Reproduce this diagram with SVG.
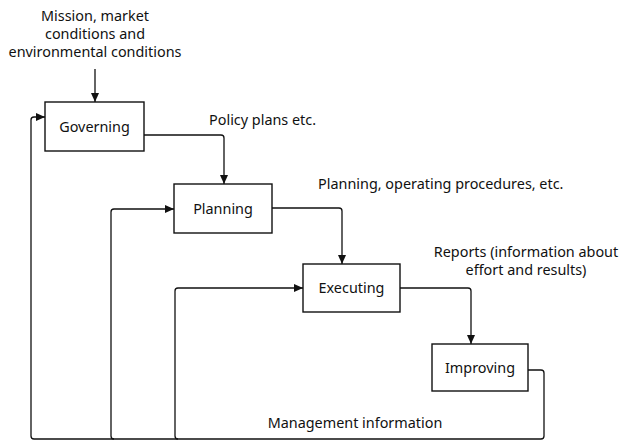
<svg xmlns="http://www.w3.org/2000/svg" width="623" height="440" viewBox="0 0 623 440">
<style>
text{font-family:"Noto Sans","Open Sans","Liberation Sans",sans-serif;font-size:14.4px;fill:#111;}
.c{text-anchor:middle;}
.box{fill:#fff;stroke:#111;stroke-width:1.4;}
.ln{fill:none;stroke:#111;stroke-width:1.3;}
</style>
<defs>
<marker id="ah" viewBox="0 0 9 8" refX="9" refY="4" markerWidth="9" markerHeight="8" markerUnits="userSpaceOnUse" orient="auto">
<path d="M0,0 L9,4 L0,8 z" fill="#111"/>
</marker>
</defs>
<g id="connectors">
<path class="ln" d="M95,69 V102" marker-end="url(#ah)"/>
<path class="ln" d="M144,135 H221 Q224,135 224,138 V184" marker-end="url(#ah)"/>
<path class="ln" d="M272,208 H339 Q342,208 342,211 V264" marker-end="url(#ah)"/>
<path class="ln" d="M400,288 H468 Q471,288 471,291 V344" marker-end="url(#ah)"/>
<path class="ln" d="M528,370 H541 Q544,370 544,373 V436 Q544,439 541,439 H34 Q31,439 31,436 V120 Q31,117 34,117 H45" marker-end="url(#ah)"/>
<path class="ln" d="M114,439 Q111,439 111,436 V212 Q111,209 114,209 H174" marker-end="url(#ah)"/>
<path class="ln" d="M178,439 Q175,439 175,436 V291 Q175,288 178,288 H303" marker-end="url(#ah)"/>
</g>
<g id="labels">
<text class="c" x="95" y="21">Mission, market</text>
<text class="c" x="95" y="39">conditions and</text>
<text class="c" x="95" y="57">environmental conditions</text>
<text x="209" y="125">Policy plans etc.</text>
<text x="318" y="189">Planning, operating procedures, etc.</text>
<text class="c" x="526" y="257">Reports (information about</text>
<text class="c" x="526" y="275">effort and results)</text>
<text class="c" x="355" y="428">Management information</text>
</g>
<g id="governing">
<rect class="box" x="45" y="102" width="99" height="49"/>
<text class="c" x="94.5" y="131.5">Governing</text>
</g>
<g id="planning">
<rect class="box" x="174" y="184" width="98" height="49"/>
<text class="c" x="223" y="213.5">Planning</text>
</g>
<g id="executing">
<rect class="box" x="303" y="264" width="97" height="48"/>
<text class="c" x="351.5" y="293">Executing</text>
</g>
<g id="improving">
<rect class="box" x="432" y="344" width="96" height="47"/>
<text class="c" x="480" y="372.5">Improving</text>
</g>
</svg>
